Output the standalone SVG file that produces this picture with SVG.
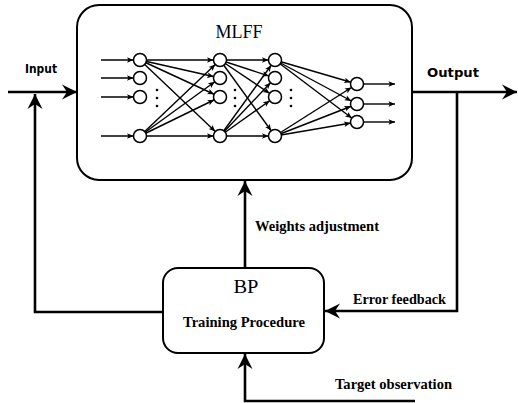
<svg xmlns="http://www.w3.org/2000/svg" width="518" height="403" viewBox="0 0 518 403">
<style>
.box{fill:#fff;stroke:#000;stroke-width:2}
.wire{fill:none;stroke:#000;stroke-width:2.6}
.net{fill:none;stroke:#000;stroke-width:1.4}
.node{fill:#fff;stroke:#000;stroke-width:1.5}
.lbl{font-family:"Liberation Serif","Times New Roman",serif;font-weight:bold;font-size:14px;fill:#000}
.sans{font-family:"DejaVu Sans","Liberation Sans",sans-serif;font-weight:bold;font-size:12.5px;fill:#000}
.title{font-family:"Liberation Serif","Times New Roman",serif;font-size:18px;fill:#000}
</style>
<defs>
<marker id="big" markerUnits="userSpaceOnUse" markerWidth="30" markerHeight="30" orient="auto" refX="0" refY="0" overflow="visible">
<path d="M0,0 L-15,-7.5 L-10,0 L-15,7.5 Z" fill="#000"/>
</marker>
<marker id="sm" markerUnits="userSpaceOnUse" markerWidth="20" markerHeight="20" orient="auto" refX="0" refY="0" overflow="visible">
<path d="M-6.5,0 L-13,-2.8 L-11.5,0 L-13,2.8 Z" fill="#000"/>
</marker>
<marker id="smt" markerUnits="userSpaceOnUse" markerWidth="20" markerHeight="20" orient="auto" refX="0" refY="0" overflow="visible">
<path d="M0,0 L-6.5,-2.8 L-5,0 L-6.5,2.8 Z" fill="#000"/>
</marker>
</defs>

<g id="connectors">
<line class="wire" x1="8" y1="92" x2="77" y2="92" marker-end="url(#big)"/>
<line class="wire" x1="412" y1="92" x2="517" y2="92" marker-end="url(#big)"/>
<polyline class="wire" points="163,312 35,312 35,94" marker-end="url(#big)"/>
<line class="wire" x1="245" y1="268" x2="245" y2="181" marker-end="url(#big)"/>
<polyline class="wire" points="457,92 457,311 325,311" marker-end="url(#big)"/>
<polyline class="wire" points="415,401 245,401 245,354" marker-end="url(#big)"/>
</g>

<g id="mlff">
<rect class="box" x="77" y="5" width="335" height="175" rx="22"/>
<text class="title" x="239" y="38" text-anchor="middle">MLFF</text>
<g id="network">
<g class="net">
<line x1="101" y1="60" x2="133.5" y2="60" marker-end="url(#smt)"/>
<line x1="101" y1="78" x2="133.5" y2="78" marker-end="url(#smt)"/>
<line x1="101" y1="97" x2="133.5" y2="97" marker-end="url(#smt)"/>
<line x1="101" y1="136" x2="133.5" y2="136" marker-end="url(#smt)"/>
<line x1="140" y1="60" x2="220" y2="60" marker-end="url(#sm)"/>
<line x1="140" y1="60" x2="220" y2="78" marker-end="url(#sm)"/>
<line x1="140" y1="60" x2="220" y2="97" marker-end="url(#sm)"/>
<line x1="140" y1="60" x2="220" y2="136" marker-end="url(#sm)"/>
<line x1="140" y1="136" x2="220" y2="60" marker-end="url(#sm)"/>
<line x1="140" y1="136" x2="220" y2="78" marker-end="url(#sm)"/>
<line x1="140" y1="136" x2="220" y2="97" marker-end="url(#sm)"/>
<line x1="140" y1="136" x2="220" y2="136" marker-end="url(#sm)"/>
<line x1="220" y1="60" x2="275" y2="60" marker-end="url(#sm)"/>
<line x1="220" y1="60" x2="275" y2="78" marker-end="url(#sm)"/>
<line x1="220" y1="60" x2="275" y2="97" marker-end="url(#sm)"/>
<line x1="220" y1="60" x2="275" y2="136" marker-end="url(#sm)"/>
<line x1="220" y1="136" x2="275" y2="60" marker-end="url(#sm)"/>
<line x1="220" y1="136" x2="275" y2="78" marker-end="url(#sm)"/>
<line x1="220" y1="136" x2="275" y2="97" marker-end="url(#sm)"/>
<line x1="220" y1="136" x2="275" y2="136" marker-end="url(#sm)"/>
<line x1="275" y1="60" x2="357" y2="84" marker-end="url(#sm)"/>
<line x1="275" y1="60" x2="357" y2="104" marker-end="url(#sm)"/>
<line x1="275" y1="60" x2="357" y2="122" marker-end="url(#sm)"/>
<line x1="275" y1="136" x2="357" y2="84" marker-end="url(#sm)"/>
<line x1="275" y1="136" x2="357" y2="104" marker-end="url(#sm)"/>
<line x1="275" y1="136" x2="357" y2="122" marker-end="url(#sm)"/>
<line x1="363" y1="84" x2="395" y2="84" marker-end="url(#smt)"/>
<line x1="363" y1="104" x2="395" y2="104" marker-end="url(#smt)"/>
<line x1="363" y1="122" x2="395" y2="122" marker-end="url(#smt)"/>
</g>
<g class="node">
<circle cx="140" cy="60" r="6.5"/><circle cx="140" cy="78" r="6.5"/><circle cx="140" cy="97" r="6.5"/><circle cx="140" cy="136" r="6.5"/>
<circle cx="220" cy="60" r="6.5"/><circle cx="220" cy="78" r="6.5"/><circle cx="220" cy="97" r="6.5"/><circle cx="220" cy="136" r="6.5"/>
<circle cx="275" cy="60" r="6.5"/><circle cx="275" cy="78" r="6.5"/><circle cx="275" cy="97" r="6.5"/><circle cx="275" cy="136" r="6.5"/>
<circle cx="357" cy="84" r="6.5"/><circle cx="357" cy="104" r="6.5"/><circle cx="357" cy="122" r="6.5"/>
</g>
<g fill="#000">
<circle cx="157" cy="90" r="1.3"/><circle cx="157" cy="98" r="1.3"/><circle cx="157" cy="106" r="1.3"/>
<circle cx="235" cy="90" r="1.3"/><circle cx="235" cy="98" r="1.3"/><circle cx="235" cy="106" r="1.3"/>
<circle cx="291" cy="90" r="1.3"/><circle cx="291" cy="98" r="1.3"/><circle cx="291" cy="106" r="1.3"/>
</g>
</g>
</g>

<g id="bp">
<rect class="box" x="163" y="268" width="161" height="85" rx="15"/>
<text class="title" x="246" y="293" text-anchor="middle" textLength="25" lengthAdjust="spacingAndGlyphs">BP</text>
<text class="lbl" x="183" y="327" textLength="122" lengthAdjust="spacingAndGlyphs">Training Procedure</text>
</g>

<g id="labels">
<text class="sans" x="25" y="73" textLength="32" lengthAdjust="spacingAndGlyphs">Input</text>
<text class="sans" x="427" y="77" textLength="52" lengthAdjust="spacingAndGlyphs">Output</text>
<text class="lbl" x="255" y="231" textLength="124" lengthAdjust="spacingAndGlyphs">Weights adjustment</text>
<text class="lbl" x="353" y="304" textLength="93" lengthAdjust="spacingAndGlyphs">Error feedback</text>
<text class="lbl" x="335" y="389" textLength="117" lengthAdjust="spacingAndGlyphs">Target observation</text>
</g>
</svg>
